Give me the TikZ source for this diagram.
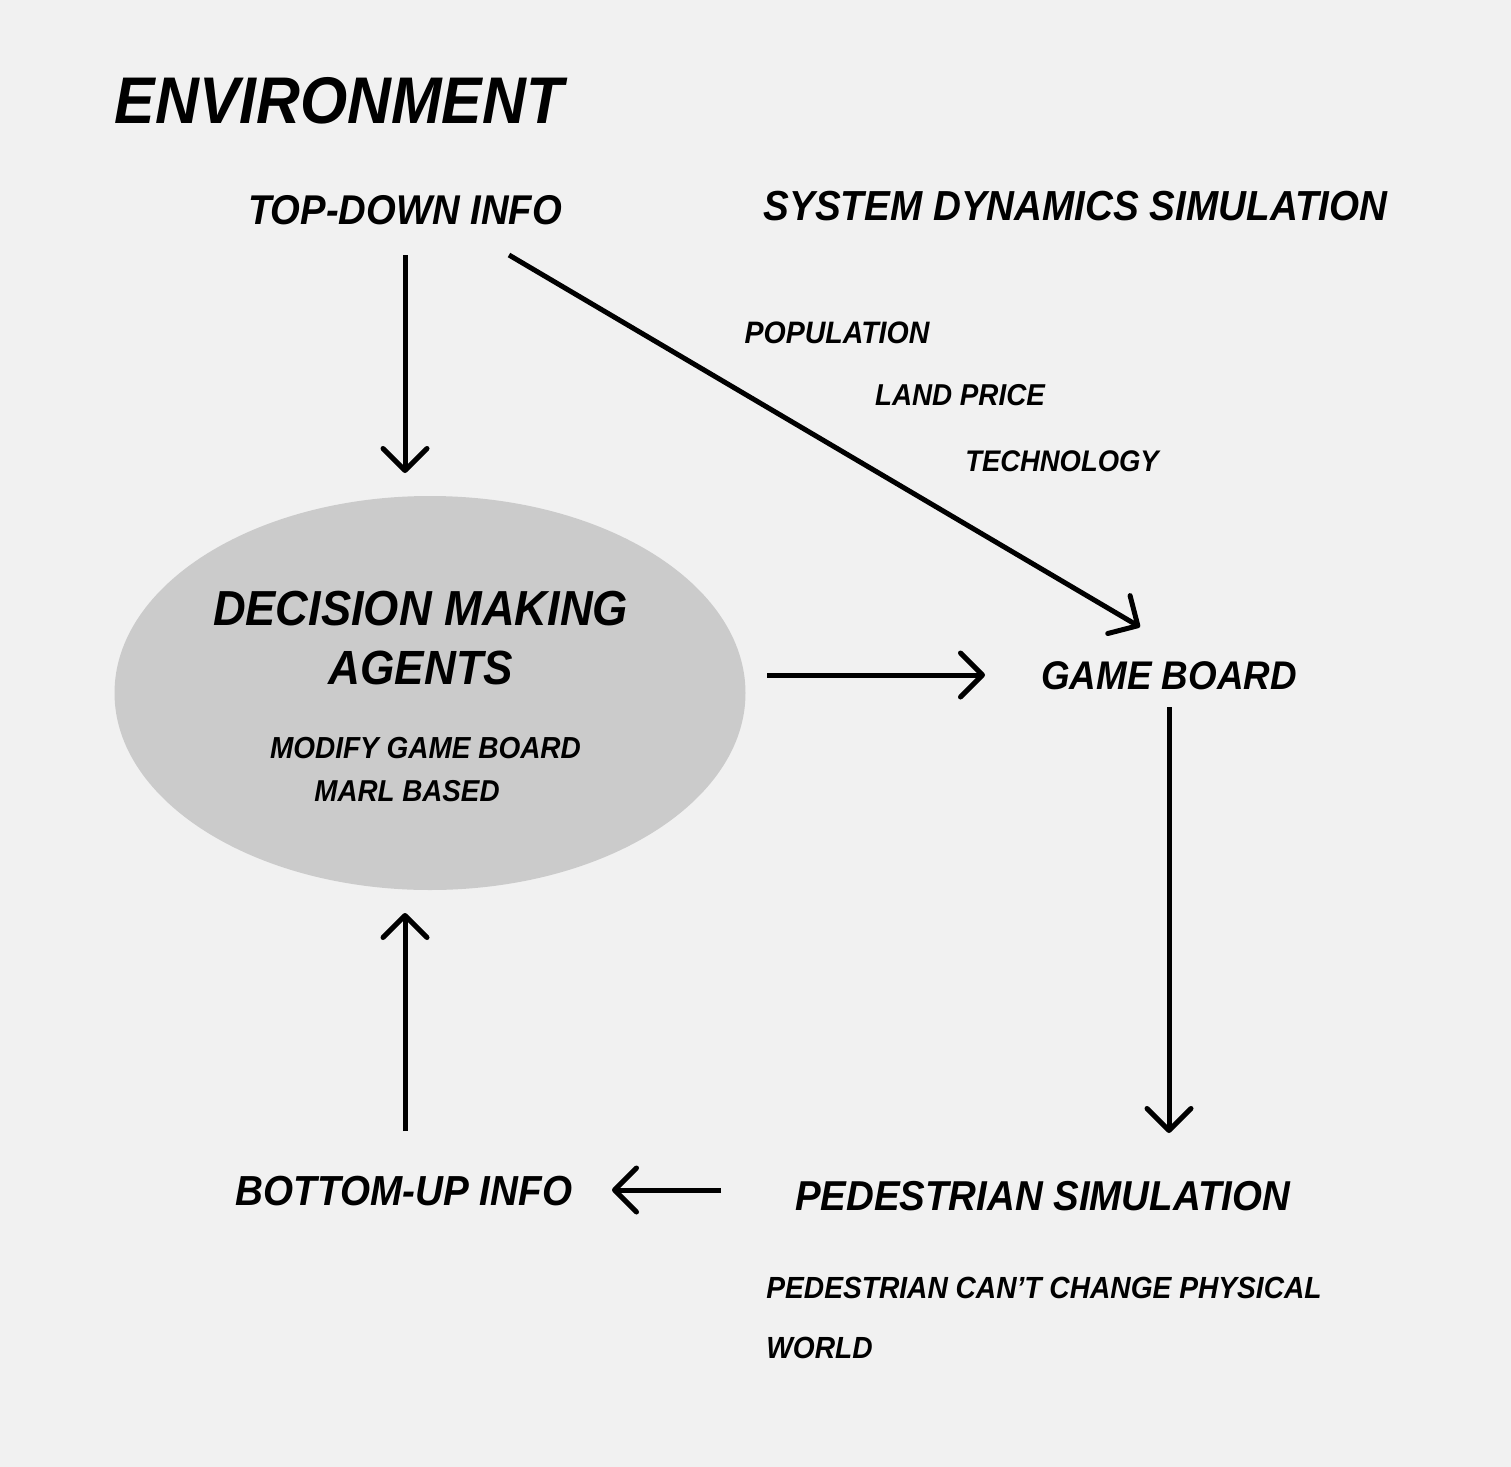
\documentclass[tikz,border=0pt]{standalone}
\usepackage{fontspec}
\setmainfont{Liberation Sans}[FakeStretch=0.92]
\usetikzlibrary{arrows.meta,shapes.geometric}
\definecolor{bg}{HTML}{F1F1F1}
\definecolor{ellfill}{HTML}{CBCBCB}
\newcommand{\fs}[1]{\fontsize{#1}{1.2\dimexpr#1\relax}\selectfont}
\begin{document}
\begin{tikzpicture}[x=0.5pt,y=-0.5pt,
  txt/.style={inner sep=0pt, anchor=base, font=\bfseries\itshape},
  sz/.style={txt, font=\bfseries\itshape\fs{#1}},
  arr/.style={line width=2.5pt, -{Straight Barb[length=11pt,width=22pt,round]}}]
\fill[bg] (0,0) rectangle (1511,1467);
\useasboundingbox (0,0) rectangle (1511,1467);
% ellipse
\node[ellipse, fill=ellfill, minimum width=315.5pt, minimum height=197pt, inner sep=0pt] (dm) at (430,693) {};
% texts
\node[sz=33pt] (env) at (339,123) {ENVIRONMENT};
\node[sz=20.8pt] (topdown) at (405,224) {TOP-DOWN INFO};
\node[sz=21pt] (sds) at (1075.5,220) {SYSTEM DYNAMICS SIMULATION};
\node[sz=15.5pt] (pop) at (837,343) {POPULATION};
\node[sz=15.1pt] (land) at (960,405) {LAND PRICE};
\node[sz=14.9pt] (tech) at (1062,471) {TECHNOLOGY};
\node[sz=24.6pt] (dm1) at (420.5,625) {DECISION MAKING};
\node[sz=24pt] (dm2) at (420.5,684) {AGENTS};
\node[sz=15.2pt] (mod) at (425.5,758) {MODIFY GAME BOARD};
\node[sz=15.1pt] (marl) at (407,801) {MARL BASED};
\node[sz=20pt] (gb) at (1169,689) {GAME BOARD};
\node[sz=21pt] (bu) at (404,1205) {BOTTOM-UP INFO};
\node[sz=20.9pt] (ped) at (1042.5,1210) {PEDESTRIAN SIMULATION};
\node[sz=15.3pt, anchor=base west] (pedc) at (766,1298) {PEDESTRIAN CAN’T CHANGE PHYSICAL};
\node[sz=15.3pt, anchor=base west] (world) at (766,1358) {WORLD};
% arrow end points
\coordinate (a1s) at (405,255); \coordinate (a1e) at (405,473);
\coordinate (a2s) at (509,255); \coordinate (a2e) at (1140,627);
\coordinate (a3s) at (767,675); \coordinate (a3e) at (985,675);
\coordinate (a4s) at (1169,707); \coordinate (a4e) at (1169,1133);
\coordinate (a5s) at (721,1190); \coordinate (a5e) at (612,1190);
\coordinate (a6s) at (405,1131); \coordinate (a6e) at (405,913);
\draw[arr] (a1s) -- (a1e);
\draw[arr] (a2s) -- (a2e);
\draw[arr] (a3s) -- (a3e);
\draw[arr] (a4s) -- (a4e);
\draw[arr] (a5s) -- (a5e);
\draw[arr] (a6s) -- (a6e);
\end{tikzpicture}
\end{document}
